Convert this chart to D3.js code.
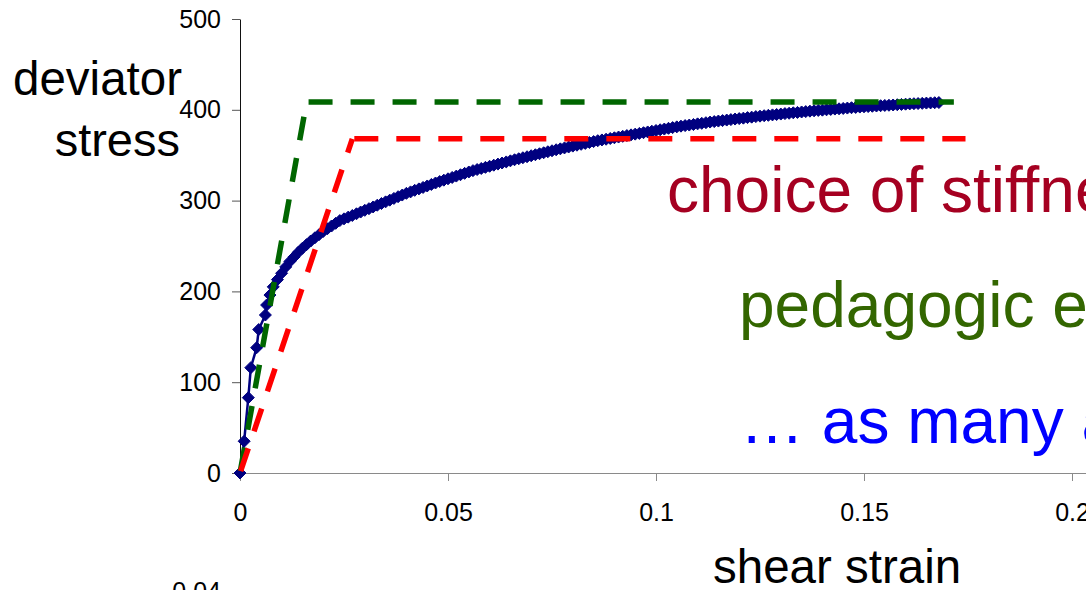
<!DOCTYPE html>
<html>
<head>
<meta charset="utf-8">
<script src="https://cdn.jsdelivr.net/npm/d3@7"></script>
<style>
  body { margin: 0; background: #fff; overflow: hidden; }
  svg { display: block; font-family: "Liberation Sans", Arial, sans-serif; }
</style>
</head>
<body>
<div id="viz"></div>
<script>
// measured curve, strain in thousandths (x1000) and deviator stress
var strainMilli = [0, 1.0, 2.0, 2.6, 4.0, 4.5, 6.1, 6.4, 7.2,
  8, 9, 10, 11, 12, 13, 14, 15, 16, 17, 18, 19, 20, 21, 22, 23, 24,
  25, 26, 27, 28, 29, 30, 31, 32, 33, 34, 35, 36, 37, 38, 39, 40,
  41, 42, 43, 44, 45, 46, 47, 48, 49, 50, 51, 52, 53, 54, 55, 56,
  57, 58, 59, 60, 61, 62, 63, 64, 65, 66, 67, 68, 69, 70, 71, 72,
  73, 74, 75, 76, 77, 78, 79, 80, 81, 82, 83, 84, 85, 86, 87, 88,
  89, 90, 91, 92, 93, 94, 95, 96, 97, 98, 99, 100, 101, 102, 103, 104,
  105, 106, 107, 108, 109, 110, 111, 112, 113, 114, 115, 116, 117, 118, 119, 120,
  121, 122, 123, 124, 125, 126, 127, 128, 129, 130, 131, 132, 133, 134, 135, 136,
  137, 138, 139, 140, 141, 142, 143, 144, 145, 146, 147, 148, 149, 150, 151, 152,
  153, 154, 155, 156, 157, 158, 159, 160, 161, 162, 163, 164, 165, 166, 167, 168];
var stress = [0, 35, 83, 116, 138, 158, 174, 185, 196,
  205, 213, 220, 227, 233, 238, 243, 247.5, 251.5, 255.5, 259, 262.5, 266, 269, 272, 275, 278,
  279.9, 281.8, 283.6, 285.5, 287.4, 289.3, 291.1, 293,
  294.9, 296.8, 298.6, 300.5, 302.4, 304.3, 306.1, 308,
  309.6, 311.3, 312.9, 314.5, 316.1, 317.8, 319.4, 321,
  322.5, 324, 325.5, 327, 328.5, 330, 331.5, 333,
  334.2, 335.4, 336.6, 337.8, 339, 340.2, 341.4, 342.6, 343.8, 345,
  346.1, 347.2, 348.3, 349.4, 350.5, 351.6, 352.7, 353.8, 354.9, 356,
  357, 358, 359, 360, 361, 362, 363, 364, 365, 366,
  366.8, 367.6, 368.4, 369.2, 370, 370.8, 371.6, 372.4, 373.2, 374,
  374.8, 375.6, 376.4, 377.2, 378, 378.8, 379.6, 380.4, 381.2, 382,
  382.6, 383.2, 383.8, 384.5, 385.1, 385.8, 386.5,
  387, 387.6, 388.1, 388.7, 389.2, 389.8, 390.3, 390.8, 391.4, 391.9, 392.5, 393,
  393.5, 393.9, 394.4, 394.8, 395.3, 395.8, 396.2, 396.7, 397.1, 397.6, 398, 398.5,
  398.9, 399.3, 399.6, 400, 400.4, 400.8, 401.1, 401.5, 401.9, 402.3, 402.6, 403,
  403.3, 403.6, 403.9, 404.2, 404.5, 404.8, 405, 405.3, 405.6, 405.9, 406.2, 406.5,
  406.7, 406.9, 407.1, 407.4, 407.6, 407.8, 408];

// bilinear idealisations
var greenStrain = [0, 0.016, 0.1716];
var greenStress = [0, 408.5, 408.5];
var redStrain = [0, 0.027, 0.1744];
var redStress = [0, 368, 368];

var yTicks = [0, 100, 200, 300, 400, 500];
var xTicks = [0, 0.05, 0.1, 0.15, 0.2];
var xTickLabels = ["0", "0.05", "0.1", "0.15", "0.2"];

var notes = [
  {text: "choice of stiffness", color: "#a50021", x: 667, y: 212},
  {text: "pedagogic example", color: "#336600", x: 739, y: 327},
  {text: "\u2026 as many as", color: "#0000ff", x: 740, y: 443}
];

var W = 1086, H = 590;

var x = d3.scaleLinear().domain([0, 0.21]).range([240, 240 + 0.21 * 4160]);
var y = d3.scaleLinear().domain([0, 500]).range([473, 19]);

var svg = d3.select("#viz")
    .append("svg")
    .attr("width", W)
    .attr("height", H);

// x axis (grey)
var gx = svg.append("g")
    .attr("transform", "translate(0," + y(0) + ")")
    .call(d3.axisBottom(x)
      .tickValues(xTicks)
      .tickFormat(function(d, i){ return xTickLabels[i]; })
      .tickSize(8)
      .tickSizeOuter(0)
      .tickPadding(22));
gx.select(".domain").attr("stroke", "#8a8a8a");
gx.selectAll(".tick line").attr("stroke", "#8a8a8a");
gx.selectAll(".tick text")
    .style("font-size", "25px")
    .style("font-family", "'Liberation Sans', Arial, sans-serif")
    .attr("fill", "#000");

// y axis
var gy = svg.append("g")
    .attr("transform", "translate(" + x(0) + ",0)")
    .call(d3.axisLeft(y)
      .tickValues(yTicks)
      .tickSize(8)
      .tickSizeOuter(0)
      .tickPadding(11));
gy.select(".domain").attr("stroke", "#111");
gy.selectAll(".tick line").attr("stroke", "#555");
gy.selectAll(".tick text")
    .style("font-size", "25px")
    .style("font-family", "'Liberation Sans', Arial, sans-serif")
    .attr("fill", "#000");

// leftover label from chart below
svg.append("text")
    .attr("x", 221)
    .attr("y", 600)
    .attr("text-anchor", "end")
    .style("font-size", "25px")
    .text("0.04");

// titles
svg.append("text").attr("x", 182).attr("y", 95).attr("text-anchor", "end")
    .style("font-size", "47.5px").text("deviator");
svg.append("text").attr("x", 180).attr("y", 156).attr("text-anchor", "end")
    .style("font-size", "47px").text("stress");
svg.append("text").attr("x", 713).attr("y", 583)
    .style("font-size", "47.5px").text("shear strain");

// data curve
var pts = strainMilli.map(function(s, i){ return [s / 1000, stress[i]]; });
var line = d3.line()
    .x(function(d){ return x(d[0]); })
    .y(function(d){ return y(d[1]); });

svg.append("path")
    .datum(pts)
    .attr("d", line)
    .attr("fill", "none")
    .attr("stroke", "#000080")
    .attr("stroke-width", 2.5);

svg.selectAll("path.mk")
    .data(pts)
    .enter().append("path")
    .attr("class", "mk")
    .attr("d", "M0,-6L6,0L0,6L-6,0Z")
    .attr("transform", function(d){ return "translate(" + x(d[0]) + "," + y(d[1]) + ")"; })
    .attr("fill", "#000080")
    .attr("stroke", "#000080")
    .attr("stroke-width", 1);

// dashed idealisations, dash pattern restarts on each segment
function dashed(xs, ys, color){
  var segs = d3.pairs(xs.map(function(v, i){ return [v, ys[i]]; }));
  svg.selectAll(null)
    .data(segs)
    .enter().append("path")
    .attr("d", line)
    .attr("fill", "none")
    .attr("stroke", color)
    .attr("stroke-width", 5.5)
    .attr("stroke-dasharray", "24,18")
    .attr("stroke-dashoffset", 40);
}
dashed(greenStrain, greenStress, "#006600");
dashed(redStrain, redStress, "#ff0000");

// annotations
svg.selectAll("text.note")
    .data(notes)
    .enter().append("text")
    .attr("class", "note")
    .attr("x", function(d){ return d.x; })
    .attr("y", function(d){ return d.y; })
    .attr("fill", function(d){ return d.color; })
    .style("font-size", "64px")
    .text(function(d){ return d.text; });
</script>
</body>
</html>
